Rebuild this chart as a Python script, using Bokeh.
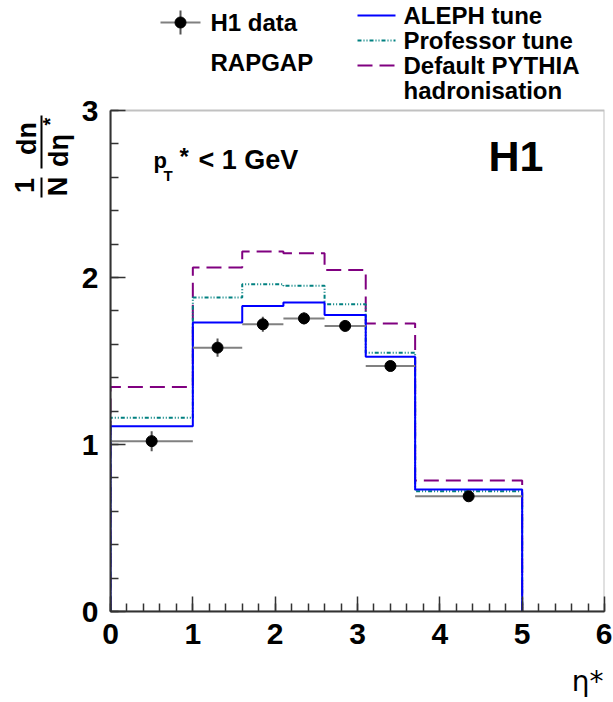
import math
from bokeh.plotting import figure
from bokeh.models import Label, SingleIntervalTicker, Range1d, BoxAnnotation
from bokeh.layouts import column, row
from bokeh.core.properties import value
from bokeh.embed import file_html
from bokeh.resources import INLINE

# ---- data ----
edges = [0.0, 1.0, 1.6, 2.1, 2.6, 3.1, 3.7, 5.0]
data_y = [1.02, 1.58, 1.72, 1.755, 1.71, 1.47, 0.69]
data_err = [0.06, 0.055, 0.045, 0.035, 0.03, 0.025, 0.02]
aleph = [1.11, 1.73, 1.83, 1.85, 1.775, 1.525, 0.73]
professor = [1.16, 1.88, 1.96, 1.95, 1.84, 1.55, 0.72]
default_pythia = [1.345, 2.06, 2.155, 2.145, 2.045, 1.725, 0.785]

series_labels = ["ALEPH tune", "Professor tune", "Default PYTHIA", "hadronisation"]
X_MIN, X_MAX, Y_MIN, Y_MAX = 0, 6, 0, 3

FONT = "Liberation Sans"
BLUE, TEAL, PURPLE = "#0000ff", "#008080", "#800080"
DASH_PROF = "4 2 1 2 1 2"
DASH_DEF = "15 7"
AXC = "#333333"

# page geometry (px)
FL, FR, FT, FB = 110, 604, 110, 611      # frame of the histogram box
STRIP_W = 78
MAIN_H = 661
PX_X = (FR - FL) / (X_MAX - X_MIN)
PX_Y = (FB - FT) / (Y_MAX - Y_MIN)


def X(px):
    return X_MIN + (px - FL) / PX_X


def Y(py):
    return Y_MIN + (FB - py) / PX_Y


# ---- main plot: frame extends up to the top of the page so that the legend fits inside ----
p = figure(width=612 - STRIP_W, height=MAIN_H, x_range=Range1d(X_MIN, X_MAX),
           y_range=Range1d(Y_MIN, Y(0)), output_backend="svg", toolbar_location=None,
           min_border_left=FL - STRIP_W, min_border_right=612 - FR, min_border_top=0,
           min_border_bottom=MAIN_H - FB)
p.grid.visible = False
p.outline_line_color = None
p.background_fill_color = "white"
p.border_fill_color = "white"

for ax in (p.xaxis[0], p.yaxis[0]):
    ax.ticker = SingleIntervalTicker(interval=1, num_minor_ticks=5)
    ax.major_tick_in = 15
    ax.major_tick_out = 0
    ax.minor_tick_in = 8
    ax.minor_tick_out = 0
    ax.axis_line_width = 2
    ax.axis_line_color = AXC
    ax.major_tick_line_color = AXC
    ax.minor_tick_line_color = AXC
    ax.major_tick_line_width = 1.5
    ax.minor_tick_line_width = 1.5
    ax.major_label_text_font = FONT
    ax.major_label_text_font_style = "bold"
    ax.major_label_text_font_size = "30px"
    ax.major_label_text_color = "black"
p.xaxis.major_label_standoff = 12
p.yaxis.major_label_standoff = 12
p.yaxis.bounds = (Y_MIN, Y_MAX)

p.add_layout(BoxAnnotation(left=X_MIN, right=X_MAX, bottom=Y_MIN, top=Y_MAX, fill_alpha=0,
                           line_color=AXC, line_width=2))


def step_xy(e, vals):
    xs, ys = [e[0]], [0.0]
    for i, v in enumerate(vals):
        xs += [e[i], e[i + 1]]
        ys += [v, v]
    xs.append(e[-1])
    ys.append(0.0)
    return xs, ys


xs, ys = step_xy(edges, default_pythia)
p.line(xs, ys, line_color=PURPLE, line_width=2, line_dash=DASH_DEF)
xs, ys = step_xy(edges, professor)
p.line(xs, ys, line_color=TEAL, line_width=2, line_dash=DASH_PROF)
xs, ys = step_xy(edges, aleph)
p.line(xs, ys, line_color=BLUE, line_width=2)

centers = [(edges[i] + edges[i + 1]) / 2 for i in range(len(data_y))]
p.segment(x0=edges[:-1], x1=edges[1:], y0=data_y, y1=data_y, line_color="#808080", line_width=2)
p.segment(x0=centers, x1=centers, y0=[y - e for y, e in zip(data_y, data_err)],
          y1=[y + e for y, e in zip(data_y, data_err)], line_color="#555555", line_width=2)
p.scatter(centers, data_y, size=11, color="black")


def L(px, py, text, size, bold=True, align="left"):
    p.add_layout(Label(x=X(px), y=Y(py), text=text, text_font_size=f"{size}px",
                       text_font_style="bold" if bold else "normal", text_align=align,
                       text_baseline="middle", text_font=FONT, text_color="black"))


# in-plot texts
L(153, 160, "p", 22)
L(163, 175, "T", 15)
L(179, 156, "*", 24)
L(198, 159, "< 1 GeV", 27)
L(488, 155, "H1", 43)

# legend (above the box, inside the extended frame)
p.segment(x0=[X(160)], y0=[Y(22)], x1=[X(200)], y1=[Y(22)], line_color="#808080", line_width=2)
p.segment(x0=[X(180)], y0=[Y(10)], x1=[X(180)], y1=[Y(34)], line_color="#555555", line_width=2)
p.scatter([X(180)], [Y(22)], size=11, color="black")
L(210, 22, "H1 data", 24)
L(210, 62, "RAPGAP", 24)
for i, (c, d) in enumerate([(BLUE, "solid"), (TEAL, DASH_PROF), (PURPLE, DASH_DEF)]):
    yy = Y(15 + 25 * i)
    p.segment(x0=[X(357)], y0=[yy], x1=[X(395)], y1=[yy], line_color=c, line_width=2, line_dash=d)
for i, s in enumerate(series_labels):
    L(403, 15 + 25 * i, s, 24)

# ---- left strip: y-axis title ----
strip = figure(width=STRIP_W, height=MAIN_H, x_range=Range1d(0, STRIP_W), y_range=p.y_range,
               x_axis_type=None, y_axis_type=None, output_backend="svg", toolbar_location=None,
               min_border_left=0, min_border_right=0, min_border_top=0,
               min_border_bottom=MAIN_H - FB)
strip.grid.visible = False
strip.outline_line_color = None
strip.background_fill_color = "white"
strip.border_fill_color = "white"
A = math.pi / 2


def stxt(px, py, s, size):
    strip.text(x=[px], y=[Y(py)], text=[s], text_font=value(FONT), text_font_size=value(f"{size}px"),
               text_font_style="bold", text_align="center", text_baseline="middle", angle=A,
               text_color="black")


stxt(26, 138, "dn", 27)
stxt(24, 185, "1", 27)
stxt(57, 186, "N", 27)
stxt(58, 150, "dη", 27)
stxt(49, 121, "*", 20)
strip.segment(x0=[41, 41], y0=[Y(115), Y(177)], x1=[41, 41], y1=[Y(168), Y(197)],
              line_color="black", line_width=2)

# ---- bottom panel: x-axis title ----
BT_H = 702 - MAIN_H
bt = figure(width=612 - STRIP_W, height=BT_H, x_range=Range1d(FL, FR),
            y_range=Range1d(MAIN_H + BT_H, MAIN_H), x_axis_type=None, y_axis_type=None,
            output_backend="svg", toolbar_location=None, min_border_left=FL - STRIP_W,
            min_border_right=612 - FR, min_border_top=0, min_border_bottom=0)
bt.grid.visible = False
bt.outline_line_color = None
bt.background_fill_color = "white"
bt.border_fill_color = "white"
bt.text(x=[FR - 1], y=[681], text=["η*"], text_font=value("DejaVu Sans"),
        text_font_size=value("28px"), text_align="right", text_baseline="middle",
        text_color="black")

layout = row(strip, column(p, bt))
open("out.html", "w").write(file_html(layout, INLINE))
